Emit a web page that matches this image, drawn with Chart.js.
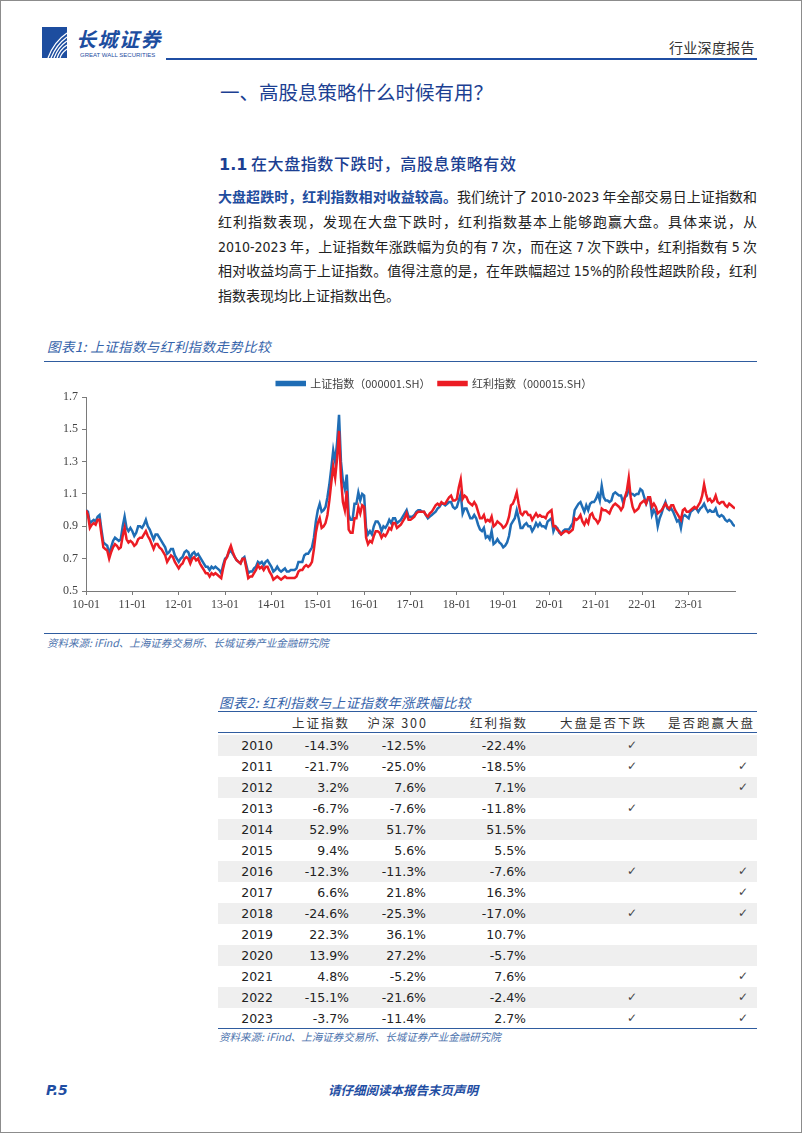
<!DOCTYPE html>
<html>
<head>
<meta charset="utf-8">
<script src="https://cdn.jsdelivr.net/npm/chart.js@4.4.0/dist/chart.umd.min.js"></script>
<style>
  html, body { margin: 0; padding: 0; background: #fff; }
  #page { position: relative; width: 802px; height: 1133px; overflow: hidden; font-family: "Noto Sans CJK SC", sans-serif; color: #222; }
  #frame { position: absolute; left: 0; top: 0; width: 800px; height: 1131px; border: 1px solid #8c8c8c; pointer-events: none; }
  .abs { position: absolute; white-space: nowrap; }
  .hline { position: absolute; height: 0; }
  .para { position: absolute; left: 218px; width: 539px; font-size: 14px; line-height: 25px; height: 25px; overflow: visible;
          font-family: "Noto Sans CJK SC", sans-serif; text-align: justify; text-align-last: justify; color: #222; }
  .num { font-family: "DejaVu Sans Condensed", "DejaVu Sans", sans-serif; font-stretch: condensed; }
  .figtitle { font-style: italic; font-size: 13.5px; color: #3563aa; letter-spacing: 0.4px; }
  .source { font-style: italic; font-size: 10.5px; color: #4b72ad; }
  .row { position: absolute; left: 218px; width: 539px; height: 21px; }
  .cell { position: absolute; top: 0; line-height: 21px; font-size: 12.5px; font-family: "DejaVu Sans", "Noto Sans CJK SC", sans-serif; color: #222; text-align: right; }
  .head { position: absolute; top: 712px; line-height: 21px; font-size: 12.5px; color: #333; letter-spacing: 2px; text-align: right; white-space: nowrap; }
</style>
</head>
<body>
<div id="page">
  <!-- header -->
  <svg class="abs" style="left:42px;top:27px" width="25" height="31" viewBox="0 0 25 31">
    <rect x="0" y="0" width="25" height="31" fill="#1d4d9f"/>
    <path d="M6 31 C 10 20, 16 12, 25 6" stroke="#fff" stroke-width="1.3" fill="none"/>
    <path d="M9 31 C 13 21, 18 15, 25 10" stroke="#fff" stroke-width="1.3" fill="none"/>
    <path d="M12 31 C 15 23, 19 18, 25 14" stroke="#fff" stroke-width="1.3" fill="none"/>
    <path d="M15 31 C 17 25, 20 21, 25 18" stroke="#fff" stroke-width="1.3" fill="none"/>
    <path d="M18 31 C 19 27, 21 25, 25 22" stroke="#fff" stroke-width="1.3" fill="none"/>
  </svg>
  <div class="abs" style="left:76px;top:29px;font-size:20px;font-weight:bold;font-style:italic;color:#1d4d9f;letter-spacing:1.5px;line-height:20px">长城证券</div>
  <div class="abs" style="left:80px;top:52px;font-size:6px;color:#1d4d9f;font-family:'Liberation Sans',sans-serif;line-height:6px">GREAT WALL SECURITIES</div>
  <div class="hline" style="left:166px;top:58px;width:591px;border-top:2px solid #1f4ea3"></div>
  <div class="abs" style="left:669px;top:37px;font-size:14px;color:#333;line-height:20px;letter-spacing:0.3px">行业深度报告</div>

  <!-- headings -->
  <div class="abs" style="left:220px;top:79px;font-size:19.5px;color:#1c3f92;line-height:26px">一、高股息策略什么时候有用？</div>
  <div class="abs" style="left:219px;top:152px;font-size:16px;color:#1c3f92;line-height:22px"><span style="font-family:'DejaVu Sans',sans-serif;font-weight:bold">1.1</span> <span style="font-weight:500;letter-spacing:0.6px">在大盘指数下跌时，高股息策略有效</span></div>

  <!-- paragraph -->
  <div class="para" style="top:184px"><span style="color:#1f4d9e;font-weight:bold">大盘超跌时，红利指数相对收益较高。</span>我们统计了 <span class="num">2010-2023</span> 年全部交易日上证指数和</div>
  <div class="para" style="top:209px">红利指数表现，发现在大盘下跌时，红利指数基本上能够跑赢大盘。具体来说，从</div>
  <div class="para" style="top:234px"><span class="num">2010-2023</span> 年，上证指数年涨跌幅为负的有 <span class="num">7</span> 次，而在这 <span class="num">7</span> 次下跌中，红利指数有 <span class="num">5</span> 次</div>
  <div class="para" style="top:258px">相对收益均高于上证指数。值得注意的是，在年跌幅超过 <span class="num">15%</span>的阶段性超跌阶段，红利</div>
  <div class="para" style="top:283px;text-align-last:left">指数表现均比上证指数出色。</div>

  <!-- figure 1 -->
  <div class="abs figtitle" style="left:47px;top:336px;line-height:20px">图表1: 上证指数与红利指数走势比较</div>
  <div class="hline" style="left:44px;top:361px;width:713px;border-top:1.5px solid #2f5c9f"></div>
  <div class="abs" style="left:44px;top:370px;width:713px;height:250px">
    <canvas id="trend" width="713" height="250" style="width:713px;height:250px"></canvas>
  </div>
  <div class="hline" style="left:44px;top:633px;width:713px;border-top:1px solid #2f5c9f"></div>
  <div class="abs source" style="left:47px;top:635px;line-height:15px">资料来源: iFind、上海证券交易所、长城证券产业金融研究院</div>

  <!-- figure 2 (table) -->
  <div class="abs figtitle" style="left:219px;top:692px;line-height:20px">图表2: 红利指数与上证指数年涨跌幅比较</div>
  <div class="hline" style="left:218px;top:711px;width:539px;border-top:1.5px solid #2f5c9f"></div>
  <div id="table"></div>
  <div class="hline" style="left:218px;top:732px;width:539px;border-top:1.5px solid #2f5c9f"></div>
  <div class="hline" style="left:218px;top:1028px;width:539px;border-top:1px solid #2f5c9f"></div>
  <div class="abs source" style="left:219px;top:1029px;line-height:15px">资料来源: iFind、上海证券交易所、长城证券产业金融研究院</div>

  <!-- footer -->
  <div class="abs" style="left:46px;top:1081px;font-size:14px;font-weight:bold;font-style:italic;color:#1f4ea3;font-family:'DejaVu Sans',sans-serif;line-height:18px">P.5</div>
  <div class="abs" style="left:328px;top:1081px;font-size:12.5px;font-weight:bold;font-style:italic;color:#1f4ea3;line-height:18px">请仔细阅读本报告末页声明</div>

  <div id="frame"></div>
</div>

<script>
// year tick labels on the x axis (one per January)
const yearLabels = ['10-01', '11-01', '12-01', '13-01', '14-01', '15-01', '16-01',
                    '17-01', '18-01', '19-01', '20-01', '21-01', '22-01', '23-01'];
const yTicks = [0.5, 0.7, 0.9, 1.1, 1.3, 1.5, 1.7];

// 上证指数, normalised, read twice a month (1st and 16th) from Jan 2010 to the end of 2023
const sseIndex = [
  1.00, 0.99, 0.92, 0.93, 0.94, 0.93, 0.96, 0.97, 0.88, 0.80, 0.79, 0.78, 0.73, 0.77, 0.81, 0.83, 0.82, 0.81, 0.82, 0.90, 0.96, 0.89, 0.87, 0.89, // 2010
  0.87, 0.84, 0.86, 0.90, 0.90, 0.89, 0.91, 0.94, 0.90, 0.88, 0.85, 0.82, 0.85, 0.85, 0.83, 0.81, 0.79, 0.77, 0.73, 0.74, 0.76, 0.76, 0.72, 0.70, // 2011
  0.68, 0.70, 0.71, 0.74, 0.75, 0.74, 0.70, 0.73, 0.74, 0.72, 0.73, 0.71, 0.69, 0.67, 0.65, 0.65, 0.63, 0.65, 0.64, 0.65, 0.64, 0.63, 0.61, 0.66, // 2012
  0.70, 0.71, 0.74, 0.75, 0.73, 0.71, 0.69, 0.68, 0.67, 0.70, 0.71, 0.66, 0.61, 0.62, 0.62, 0.64, 0.65, 0.68, 0.67, 0.68, 0.66, 0.68, 0.69, 0.67, // 2013
  0.65, 0.62, 0.63, 0.65, 0.63, 0.62, 0.63, 0.64, 0.62, 0.62, 0.63, 0.63, 0.63, 0.64, 0.68, 0.68, 0.68, 0.72, 0.73, 0.73, 0.75, 0.77, 0.83, 0.93, // 2014
  1.00, 1.04, 0.99, 1.00, 1.02, 1.08, 1.16, 1.26, 1.37, 1.30, 1.42, 1.59, 1.30, 1.18, 1.13, 1.22, 0.97, 0.94, 0.94, 1.04, 1.04, 1.11, 1.06, 1.10, // 2015
  1.09, 0.89, 0.85, 0.87, 0.85, 0.90, 0.93, 0.93, 0.91, 0.87, 0.90, 0.89, 0.91, 0.94, 0.92, 0.95, 0.95, 0.92, 0.93, 0.94, 0.96, 0.98, 1.00, 0.96, // 2016
  0.96, 0.96, 0.97, 0.99, 1.00, 1.00, 0.99, 0.99, 0.97, 0.95, 0.96, 0.97, 0.98, 0.99, 1.01, 1.02, 1.04, 1.04, 1.03, 1.04, 1.05, 1.05, 1.02, 1.01, // 2017
  1.02, 1.06, 1.10, 0.98, 1.01, 1.01, 0.98, 0.95, 0.95, 0.97, 0.95, 0.91, 0.88, 0.87, 0.89, 0.83, 0.84, 0.82, 0.87, 0.79, 0.80, 0.82, 0.80, 0.79, // 2018
  0.77, 0.78, 0.80, 0.84, 0.91, 0.93, 0.95, 1.00, 0.95, 0.89, 0.89, 0.91, 0.92, 0.90, 0.90, 0.87, 0.89, 0.92, 0.90, 0.92, 0.90, 0.90, 0.89, 0.93, // 2019
  0.94, 0.95, 0.87, 0.90, 0.89, 0.86, 0.85, 0.87, 0.88, 0.88, 0.88, 0.90, 0.92, 1.00, 1.02, 1.04, 1.05, 1.02, 0.99, 1.03, 1.00, 1.04, 1.05, 1.05, // 2020
  1.07, 1.10, 1.06, 1.15, 1.08, 1.06, 1.06, 1.05, 1.06, 1.10, 1.11, 1.10, 1.09, 1.09, 1.05, 1.08, 1.09, 1.13, 1.10, 1.10, 1.09, 1.10, 1.10, 1.13, // 2021
  1.12, 1.08, 1.04, 1.07, 1.07, 0.97, 1.00, 0.98, 0.90, 0.95, 0.98, 1.02, 1.05, 1.01, 1.00, 1.01, 0.99, 0.96, 0.93, 0.94, 0.89, 0.96, 0.97, 0.96, // 2022
  0.95, 0.99, 1.00, 1.01, 1.01, 0.99, 1.01, 1.02, 1.04, 1.01, 0.99, 1.00, 0.99, 0.99, 1.01, 0.97, 0.96, 0.97, 0.96, 0.94, 0.93, 0.94, 0.93, 0.91, // 2023
  0.90
];

// 红利指数, normalised, same dates
const dividendIndex = [
  1.00, 0.97, 0.89, 0.91, 0.92, 0.91, 0.94, 0.94, 0.85, 0.77, 0.76, 0.75, 0.70, 0.74, 0.77, 0.79, 0.78, 0.76, 0.77, 0.84, 0.89, 0.82, 0.80, 0.81, // 2010
  0.80, 0.78, 0.79, 0.82, 0.83, 0.83, 0.85, 0.87, 0.84, 0.82, 0.79, 0.76, 0.79, 0.79, 0.77, 0.76, 0.74, 0.72, 0.68, 0.70, 0.72, 0.71, 0.68, 0.66, // 2011
  0.64, 0.66, 0.67, 0.70, 0.71, 0.70, 0.67, 0.70, 0.71, 0.69, 0.70, 0.67, 0.65, 0.63, 0.61, 0.61, 0.59, 0.61, 0.60, 0.61, 0.60, 0.59, 0.58, 0.64, // 2012
  0.69, 0.71, 0.75, 0.78, 0.74, 0.71, 0.69, 0.68, 0.67, 0.70, 0.70, 0.64, 0.58, 0.59, 0.59, 0.61, 0.63, 0.66, 0.64, 0.65, 0.63, 0.65, 0.65, 0.62, // 2013
  0.60, 0.57, 0.58, 0.59, 0.58, 0.57, 0.58, 0.59, 0.58, 0.58, 0.58, 0.58, 0.58, 0.59, 0.62, 0.63, 0.63, 0.65, 0.66, 0.65, 0.66, 0.68, 0.76, 0.86, // 2014
  0.92, 0.95, 0.89, 0.90, 0.92, 0.97, 1.06, 1.17, 1.27, 1.20, 1.32, 1.49, 1.20, 1.05, 1.00, 1.12, 0.88, 0.86, 0.86, 0.95, 0.95, 1.02, 0.98, 1.03, // 2015
  1.02, 0.83, 0.79, 0.81, 0.80, 0.84, 0.87, 0.87, 0.86, 0.83, 0.85, 0.84, 0.86, 0.89, 0.88, 0.92, 0.92, 0.89, 0.90, 0.91, 0.93, 0.95, 0.98, 0.94, // 2016
  0.94, 0.95, 0.96, 0.98, 0.99, 0.99, 0.99, 0.99, 0.97, 0.96, 0.98, 0.99, 1.01, 1.03, 1.04, 1.03, 1.05, 1.04, 1.04, 1.06, 1.08, 1.09, 1.06, 1.06, // 2017
  1.07, 1.14, 1.19, 1.07, 1.09, 1.08, 1.05, 1.04, 1.03, 1.05, 1.03, 0.99, 0.95, 0.95, 0.97, 0.93, 0.94, 0.93, 0.96, 0.90, 0.91, 0.93, 0.92, 0.91, // 2018
  0.89, 0.90, 0.92, 0.96, 1.03, 1.04, 1.07, 1.11, 1.04, 0.98, 0.97, 0.99, 0.99, 0.97, 0.97, 0.94, 0.96, 0.98, 0.96, 0.97, 0.96, 0.96, 0.95, 0.98, // 2019
  0.99, 1.00, 0.90, 0.90, 0.88, 0.87, 0.85, 0.86, 0.87, 0.87, 0.86, 0.87, 0.88, 0.95, 0.94, 0.95, 0.97, 0.93, 0.91, 0.94, 0.92, 0.97, 0.98, 0.95, // 2020
  0.94, 0.92, 0.94, 1.01, 1.00, 1.00, 0.99, 0.98, 1.01, 1.03, 1.04, 1.03, 1.02, 1.00, 1.02, 1.08, 1.12, 1.20, 1.08, 1.02, 0.99, 1.00, 1.01, 1.04, // 2021
  1.05, 1.06, 1.04, 1.08, 1.08, 1.02, 1.04, 1.02, 0.98, 0.99, 1.00, 1.02, 1.04, 1.02, 1.01, 1.03, 1.03, 1.00, 0.98, 0.96, 0.94, 1.00, 1.01, 0.99, // 2022
  0.99, 1.00, 1.01, 1.02, 1.01, 1.03, 1.05, 1.09, 1.16, 1.10, 1.06, 1.07, 1.05, 1.06, 1.09, 1.05, 1.04, 1.05, 1.05, 1.03, 1.02, 1.04, 1.03, 1.02, // 2023
  1.01
];

// table 2
const tableYears = ['2010', '2011', '2012', '2013', '2014', '2015', '2016', '2017', '2018', '2019', '2020', '2021', '2022', '2023'];
const sseChange = ['-14.3%', '-21.7%', '3.2%', '-6.7%', '52.9%', '9.4%', '-12.3%', '6.6%', '-24.6%', '22.3%', '13.9%', '4.8%', '-15.1%', '-3.7%'];
const hs300Change = ['-12.5%', '-25.0%', '7.6%', '-7.6%', '51.7%', '5.6%', '-11.3%', '21.8%', '-25.3%', '36.1%', '27.2%', '-5.2%', '-21.6%', '-11.4%'];
const dividendChange = ['-22.4%', '-18.5%', '7.1%', '-11.8%', '51.5%', '5.5%', '-7.6%', '16.3%', '-17.0%', '10.7%', '-5.7%', '7.6%', '-2.4%', '2.7%'];
const marketDown = [1, 1, 0, 1, 0, 0, 1, 0, 1, 0, 0, 0, 1, 1];
const beatMarket = [0, 1, 1, 0, 0, 0, 1, 1, 1, 0, 0, 1, 1, 1];
const tableHeads = ['上证指数', '沪深 300', '红利指数', '大盘是否下跌', '是否跑赢大盘'];

// ---- build table ----
const table = document.getElementById('table');
const headRight = [348, 426, 526, 645, 753];
tableHeads.forEach((h, i) => {
  const d = document.createElement('div');
  d.className = 'head';
  d.style.right = (802 - headRight[i] - 2) + 'px';
  d.textContent = h;
  table.appendChild(d);
});
tableYears.forEach((yr, i) => {
  const row = document.createElement('div');
  row.className = 'row';
  row.style.top = (734.5 + i * 21) + 'px';
  if (i % 2 === 0) row.style.background = '#efefef';
  const cells = [
    [yr, 273], [sseChange[i], 349], [hs300Change[i], 426], [dividendChange[i], 526],
    [marketDown[i] ? '✓' : '', 637], [beatMarket[i] ? '✓' : '', 748]
  ];
  cells.forEach(([txt, right]) => {
    const c = document.createElement('div');
    c.className = 'cell';
    c.style.right = (757 - right) + 'px';
    c.textContent = txt;
    if (txt === '✓') { c.style.color = '#444'; c.style.fontSize = '12px'; }
    row.appendChild(c);
  });
  table.appendChild(row);
});

// ---- chart ----
const toPoints = arr => arr.map((v, i) => ({ x: i / 2, y: v }));

const legendTweak = {
  id: 'legendTweak',
  beforeInit(chart) {
    const fit = chart.legend.fit;
    chart.legend.fit = function () {
      fit.call(this);
      this.height = 27;
    };
  },
  afterLayout(chart) {
    chart.legend.left += 45;
    chart.legend.right += 45;
  }
};

const axisFont = { family: "'Liberation Serif', serif", size: 12 };

new Chart(document.getElementById('trend').getContext('2d'), {
  type: 'line',
  data: {
    datasets: [
      {
        label: '上证指数（000001.SH）',
        data: toPoints(sseIndex),
        borderColor: '#1f6db5',
        backgroundColor: '#1f6db5',
        borderWidth: 2.5,
        pointRadius: 0,
        order: 1
      },
      {
        label: '红利指数（000015.SH）',
        data: toPoints(dividendIndex),
        borderColor: '#ec1c24',
        backgroundColor: '#ec1c24',
        borderWidth: 2.5,
        pointRadius: 0,
        order: 0
      }
    ]
  },
  options: {
    responsive: false,
    animation: false,
    layout: { padding: { left: 0, right: 22, top: 0, bottom: 0 } },
    plugins: {
      legend: {
        position: 'top',
        labels: {
          boxWidth: 28,
          boxHeight: 3,
          padding: 8,
          color: '#404040',
          font: { family: "'Noto Sans CJK SC', sans-serif", size: 11 },
          sort: (a, b) => a.datasetIndex - b.datasetIndex
        }
      },
      tooltip: { enabled: false }
    },
    scales: {
      x: {
        type: 'linear',
        min: 0,
        max: 168,
        afterBuildTicks: scale => {
          scale.ticks = scale.ticks.filter(t => t.value < 168);
        },
        afterFit: scale => { scale.height = 29; },
        ticks: {
          stepSize: 12,
          includeBounds: false,
          autoSkip: false,
          maxRotation: 0,
          padding: 3,
          color: '#444',
          font: axisFont,
          callback: v => yearLabels[v / 12]
        },
        grid: { drawOnChartArea: false, drawTicks: true, tickLength: 4, color: '#7a7a7a' },
        border: { display: true, color: '#7a7a7a', width: 1 }
      },
      y: {
        min: 0.5,
        max: 1.7,
        afterBuildTicks: scale => {
          scale.ticks = yTicks.map(v => ({ value: v }));
        },
        afterFit: scale => { scale.width = 42; },
        ticks: {
          padding: 4,
          color: '#444',
          font: axisFont,
          callback: v => v.toFixed(1)
        },
        grid: { drawOnChartArea: false, drawTicks: true, tickLength: 4, color: '#7a7a7a' },
        border: { display: true, color: '#7a7a7a', width: 1 }
      }
    }
  },
  plugins: [legendTweak]
});
</script>
</body>
</html>
